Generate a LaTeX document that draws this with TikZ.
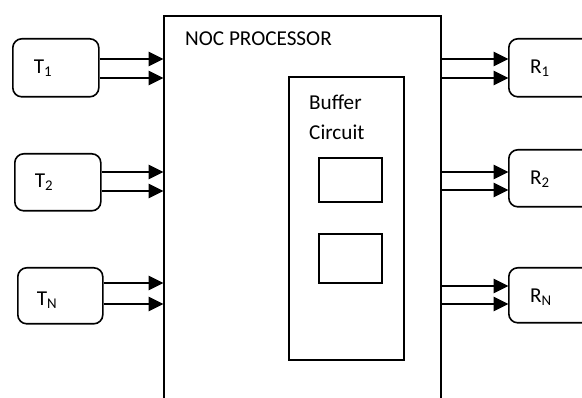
\documentclass[tikz,border=0pt]{standalone}
\usepackage{fontspec}
\setmainfont{Carlito}
\usetikzlibrary{arrows.meta}
\begin{document}
\begin{tikzpicture}[x=1pt,y=-1pt,
  box/.style={draw,line width=1.6pt,inner sep=0pt,anchor=north west},
  rbox/.style={box,rounded corners=9pt},
  lbl/.style={font=\fontsize{21.2}{25}\selectfont,inner sep=0pt},
  arr/.style={line width=2.8pt,-{Triangle[length=15pt,width=14pt]},shorten >=-0.5pt}]
\clip (0,0) rectangle (582,398);
\fill[white] (0,0) rectangle (582,398);
% main processor box
\node[box,minimum width=277pt,minimum height=400pt] (noc) at (163,15) {};
\node[lbl,anchor=west] (noct) at (185,39) {NOC PROCESSOR};
% buffer
\node[box,minimum width=115pt,minimum height=283pt] (buf) at (288,76) {};
\node[lbl,anchor=west] (buft) at (309,102) {Buffer};
\node[lbl,anchor=west] (cirt) at (309,132) {Circuit};
\node[box,line width=2pt,minimum width=63pt,minimum height=44pt] (q1) at (318,157) {};
\node[box,line width=2pt,minimum width=63pt,minimum height=49pt] (q2) at (318,233) {};
% transmitters
\node[rbox,minimum width=86pt,minimum height=58pt] (T1) at (12,38) {};
\node[rbox,minimum width=86pt,minimum height=57pt] (T2) at (14,153) {};
\node[rbox,minimum width=85pt,minimum height=56pt] (TN) at (17,267) {};
\node[lbl] (T1t) at (43,68) {T\textsubscript{1}};
\node[lbl] (T2t) at (44,182) {T\textsubscript{2}};
\node[lbl] (TNt) at (47,300) {T\textsubscript{N}};
% receivers
\node[rbox,minimum width=100pt,minimum height=58pt] (R1) at (508,38) {};
\node[rbox,minimum width=100pt,minimum height=57pt] (R2) at (508,149) {};
\node[rbox,minimum width=100pt,minimum height=55pt] (RN) at (508,267) {};
\node[lbl] (R1t) at (540,68) {R\textsubscript{1}};
\node[lbl] (R2t) at (540,179) {R\textsubscript{2}};
\node[lbl] (RNt) at (541,297) {R\textsubscript{N}};
% arrows in
\draw[arr] (T1.east |- 0,59) -- (noc.west |- 0,59);
\draw[arr] (T1.east |- 0,78) -- (noc.west |- 0,78);
\draw[arr] (T2.east |- 0,172) -- (noc.west |- 0,172);
\draw[arr] (T2.east |- 0,191) -- (noc.west |- 0,191);
\draw[arr] (TN.east |- 0,283) -- (noc.west |- 0,283);
\draw[arr] (TN.east |- 0,304) -- (noc.west |- 0,304);
% arrows out
\draw[arr] (noc.east |- 0,59) -- (R1.west |- 0,59);
\draw[arr] (noc.east |- 0,78) -- (R1.west |- 0,78);
\draw[arr] (noc.east |- 0,172) -- (R2.west |- 0,172);
\draw[arr] (noc.east |- 0,190) -- (R2.west |- 0,190);
\draw[arr] (noc.east |- 0,286) -- (RN.west |- 0,286);
\draw[arr] (noc.east |- 0,304) -- (RN.west |- 0,304);
\end{tikzpicture}
\end{document}
